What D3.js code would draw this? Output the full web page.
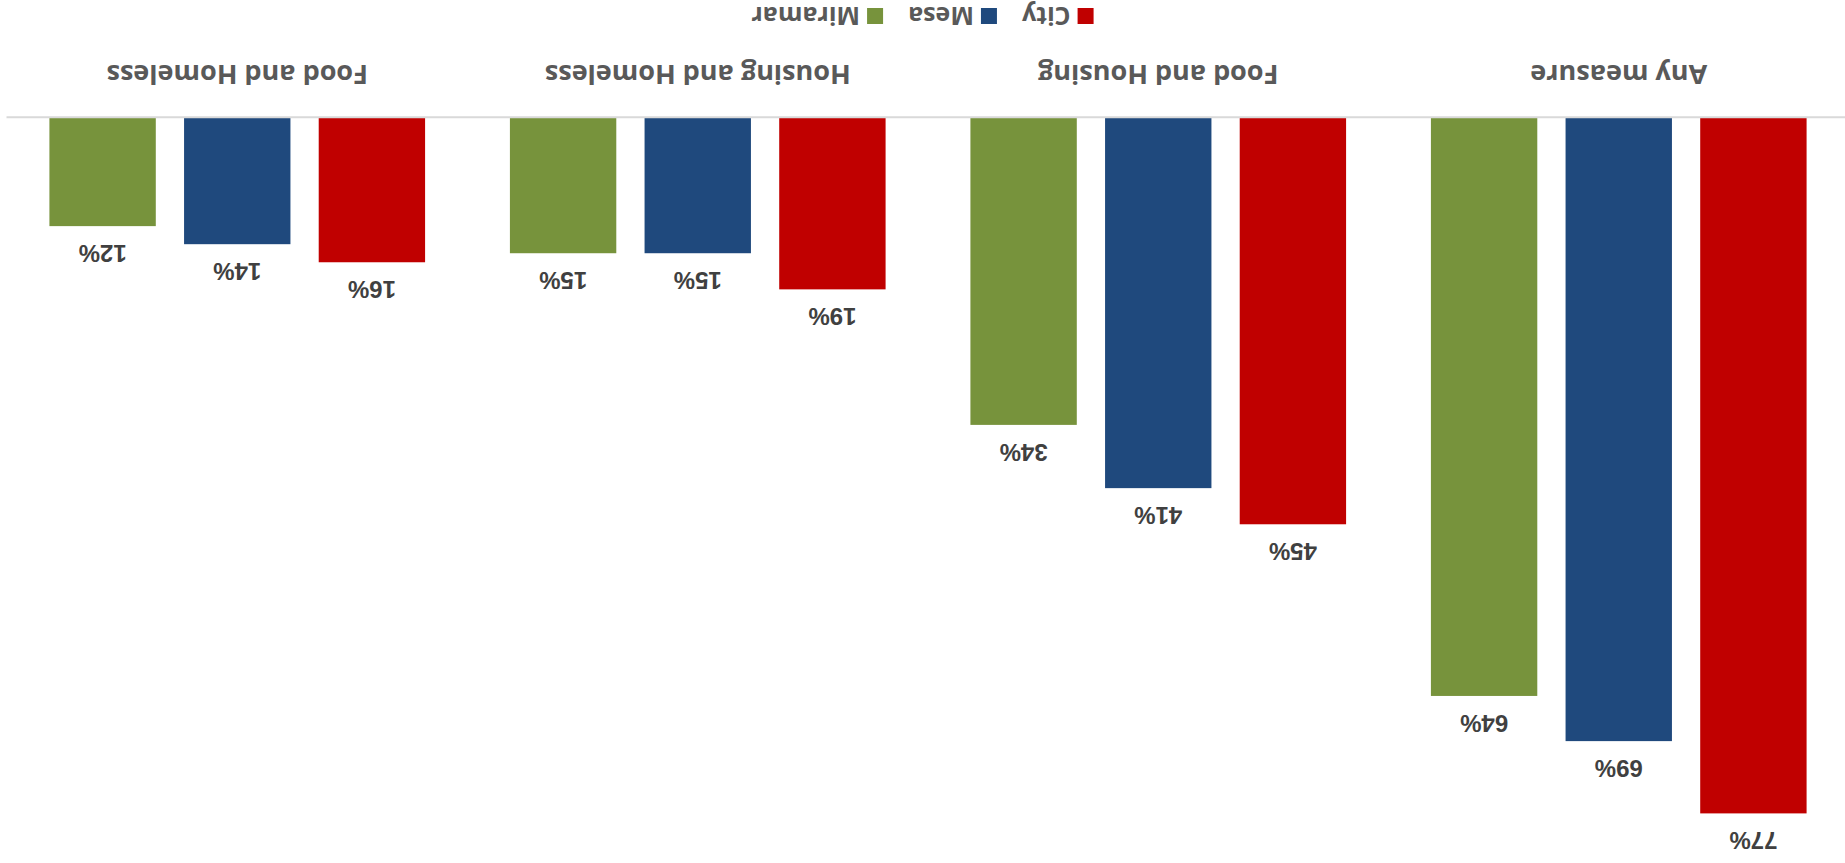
<!DOCTYPE html>
<html>
<head>
<meta charset="utf-8">
<script src="https://cdn.jsdelivr.net/npm/d3@7"></script>
<style>
  html, body { margin: 0; padding: 0; background: #ffffff; }
  svg { display: block; }
</style>
</head>
<body>
<svg id="chart" width="1845" height="863"></svg>
<script>
const categories = ["Any measure", "Food and Housing", "Housing and Homeless", "Food and Homeless"];
const seriesNames = ["City", "Mesa", "Miramar"];
const cityValues = [0.77, 0.45, 0.19, 0.16];
const mesaValues = [0.69, 0.41, 0.15, 0.14];
const miramarValues = [0.64, 0.34, 0.15, 0.12];
const seriesColors = ["#C00000", "#1F497D", "#77933C"];

const seriesValues = [cityValues, mesaValues, miramarValues];
const rows = categories.map((c, i) => ({
  category: c,
  values: seriesNames.map((s, j) => ({ series: s, value: seriesValues[j][i] }))
}));

const W = 1845, H = 863;
const svg = d3.select("#chart");
// The whole chart is shown turned upside down.
const g = svg.append("g").attr("transform", `rotate(180 ${W / 2} ${H / 2})`);

const x0 = d3.scaleBand().domain(categories).range([-4, 1838]).padding(0);
const x1 = d3.scaleBand().domain(seriesNames).range([0, x0.bandwidth()])
  .paddingInner(0.21).paddingOuter(0.315);
const y = d3.scaleLinear().domain([0, 0.8]).range([745.3, 22.5]);
const color = d3.scaleOrdinal().domain(seriesNames).range(seriesColors);

// bars
const groups = g.selectAll("g.cat").data(rows).join("g")
  .attr("class", "cat")
  .attr("transform", d => `translate(${x0(d.category)},0)`);

groups.selectAll("rect").data(d => d.values).join("rect")
  .attr("x", d => x1(d.series))
  .attr("width", x1.bandwidth())
  .attr("y", d => y(d.value))
  .attr("height", d => y(0) - y(d.value))
  .attr("fill", d => color(d.series));

groups.selectAll("text.val").data(d => d.values).join("text")
  .attr("class", "val")
  .attr("x", d => x1(d.series) + x1.bandwidth() / 2)
  .attr("y", d => y(d.value) - 19)
  .attr("text-anchor", "middle")
  .attr("font-family", "'Liberation Sans', Arial, sans-serif")
  .attr("font-weight", "bold")
  .attr("font-size", 24)
  .attr("fill", "#404040")
  .text(d => d3.format(".0%")(d.value));

// baseline axis
const xAxis = d3.axisBottom(x0).tickSize(0).tickPadding(0);
const axisG = g.append("g").attr("transform", `translate(0,${y(0)})`).call(xAxis);
axisG.select(".domain").attr("stroke", "#D9D9D9").attr("stroke-width", 2);
axisG.selectAll(".tick text")
  .attr("dy", 0)
  .attr("y", 798 - y(0))
  .attr("font-family", "'Open Sans', sans-serif")
  .attr("font-weight", "bold")
  .attr("font-size", 27)
  .attr("fill", "#595959");

// legend
const legend = g.append("g");
const items = legend.selectAll("g").data(seriesNames).join("g");
items.append("rect")
  .attr("width", 16).attr("height", 16)
  .attr("y", 839)
  .attr("fill", d => color(d));
items.append("text")
  .attr("x", 23)
  .attr("y", 856)
  .attr("font-family", "'Open Sans', sans-serif")
  .attr("font-weight", "bold")
  .attr("font-size", 25)
  .attr("fill", "#595959")
  .text(d => d);
let cursor = 0;
const offs = [];
items.each(function () {
  offs.push(cursor);
  const tw = d3.select(this).select("text").node().getComputedTextLength();
  cursor += 23 + tw + 25;
});
const totalW = cursor - 25;
const startX = W / 2 - totalW / 2;
items.attr("transform", (d, i) => `translate(${startX + offs[i]},0)`);
</script>
</body>
</html>
